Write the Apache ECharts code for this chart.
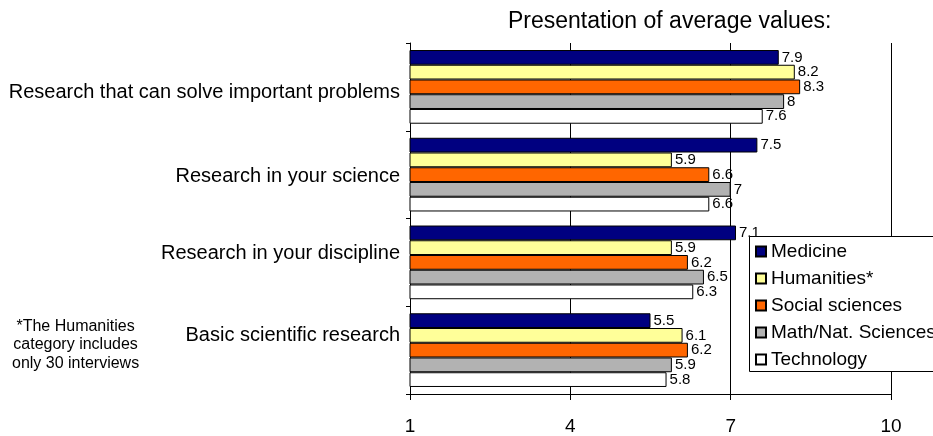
<!DOCTYPE html>
<html>
<head>
<meta charset="utf-8">
<script src="https://cdn.jsdelivr.net/npm/echarts@6/dist/echarts.min.js"></script>
<style>
html,body{margin:0;padding:0;background:#fff;}
#chart{width:933px;height:436px;}
</style>
</head>
<body>
<div id="chart"></div>
<script>
const categories = [
  'Research that can solve important problems',
  'Research in your science',
  'Research in your discipline',
  'Basic scientific research'
];
const seriesNames = ['Medicine', 'Humanities*', 'Social sciences', 'Math/Nat. Sciences', 'Technology'];
const medicine = [7.9, 7.5, 7.1, 5.5];
const humanities = [8.2, 5.9, 5.9, 6.1];
const social = [8.3, 6.6, 6.2, 6.2];
const mathNat = [8, 7, 6.5, 5.9];
const technology = [7.6, 6.6, 6.3, 5.8];
const xTicks = [1, 4, 7, 10];
const titleText = 'Presentation of average values:';
const footnote = '*The Humanities\ncategory includes\nonly 30 interviews';

const colors = ['#000080', '#FFFF99', '#FF6600', '#B2B2B2', '#FFFFFF'];
const values = [medicine, humanities, social, mathNat, technology];
const FONT = 'Liberation Sans, Arial, sans-serif';
const rich = {
  c0: {fontFamily: FONT, fontSize: 20, color: '#000', padding: [11, 0, 0, 0]},
  c1: {fontFamily: FONT, fontSize: 20, color: '#000', padding: [4, 0, 0, 0]},
  c2: {fontFamily: FONT, fontSize: 20, color: '#000', padding: [0, 0, 18, 0]},
  c3: {fontFamily: FONT, fontSize: 20, color: '#000', padding: [0, 0, 29, 0]}
};

const chart = echarts.init(document.getElementById('chart'), null, {renderer: 'canvas'});
const option = {
  animation: false,
  backgroundColor: '#fff',
  title: {
    text: titleText,
    left: 503, top: 5,
    textStyle: {fontFamily: FONT, fontSize: 23, fontWeight: 'normal', color: '#000'}
  },
  grid: {left: 410, right: 42, top: 43, bottom: 40, containLabel: false},
  legend: {
    orient: 'vertical',
    left: 749, top: 236,
    padding: [6, 20, 4, 6],
    itemWidth: 10, itemHeight: 10,
    itemGap: 8,
    backgroundColor: 'transparent',
    borderWidth: 0,
    icon: 'rect',
    textStyle: {fontFamily: FONT, fontSize: 19, color: '#000', lineHeight: 19},
    data: seriesNames
  },
  xAxis: {
    type: 'value', min: 1, max: 10, interval: 3,
    axisLine: {show: true, lineStyle: {color: '#000', width: 1}},
    axisTick: {show: true, length: 6, lineStyle: {color: '#000'}},
    axisLabel: {fontFamily: FONT, fontSize: 19, color: '#000', margin: 23,
      formatter: v => xTicks.includes(v) ? String(v) : ''},
    splitLine: {show: true, lineStyle: {color: '#000', width: 1}}
  },
  yAxis: {
    type: 'category', inverse: true,
    data: categories,
    axisLine: {show: true, lineStyle: {color: '#000', width: 1}},
    axisTick: {show: true, length: 4, lineStyle: {color: '#000'}},
    axisLabel: {fontFamily: FONT, fontSize: 20, color: '#000', margin: 10,
      formatter: (v, i) => '{c' + i + '|' + v + '}', rich: rich}
  },
  series: seriesNames.map((n, i) => ({
    name: n, type: 'bar',
    data: values[i],
    barGap: '0%', barCategoryGap: '16%',
    itemStyle: {color: colors[i], borderColor: '#000', borderWidth: 1},
    label: {show: true, position: 'right', distance: 3, fontFamily: FONT, fontSize: 15, color: '#000'}
  })),
  graphic: [{
    type: 'text', left: 12, top: 317,
    style: {text: footnote, font: '16px ' + FONT, fill: '#000', textAlign: 'center', lineHeight: 18.5, x: 62}
  }, {
    type: 'rect', z: 3,
    shape: {x: 749.5, y: 236.5, width: 300, height: 135},
    style: {fill: '#fff', stroke: '#000', lineWidth: 1}
  }]
};
chart.setOption(option);
</script>
</body>
</html>
